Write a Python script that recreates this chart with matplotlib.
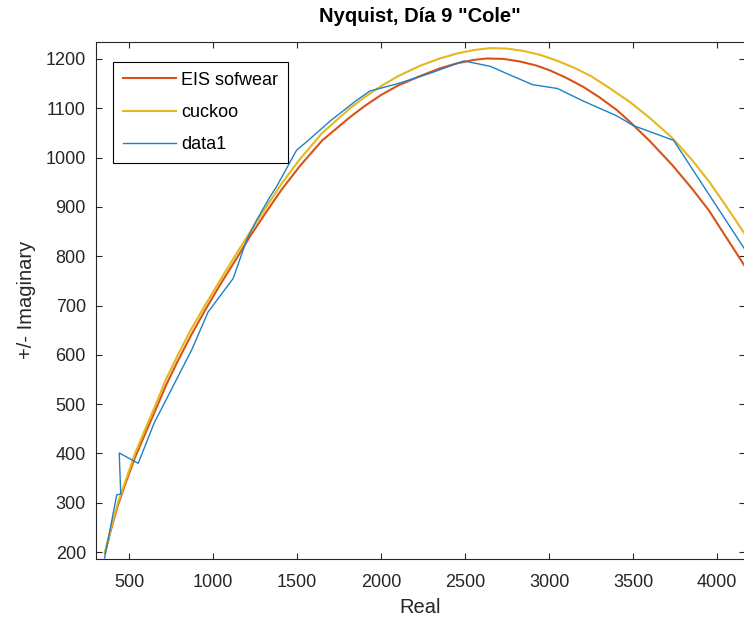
import numpy as np
import matplotlib.pyplot as plt

plt.rcParams['font.family'] = ['Liberation Sans', 'DejaVu Sans']

# EIS software fit
eis_x = [357, 390, 434, 480, 536, 600, 660, 720, 791, 870, 952, 1040, 1130, 1220, 1309,
         1410, 1517, 1650, 1815, 1900, 2000, 2100, 2230, 2350, 2450, 2550, 2630, 2730,
         2824, 2920, 3003, 3100, 3200, 3300, 3400, 3479, 3600, 3732, 3850, 3950, 4050, 4160]
eis_y = [198, 242, 295, 340, 392, 443, 490, 538, 588, 640, 690, 741, 790, 840, 886,
         936, 983, 1035, 1082, 1104, 1127, 1146, 1165, 1181, 1191, 1198, 1201, 1200,
         1195, 1187, 1177, 1162, 1144, 1122, 1097, 1073, 1033, 985, 937, 893, 840, 782]

# cuckoo fit
cuckoo_x = [357, 390, 434, 480, 536, 600, 660, 720, 791, 870, 952, 1040, 1130, 1220, 1309,
            1410, 1517, 1650, 1815, 1900, 2000, 2100, 2230, 2350, 2450, 2550, 2650, 2750,
            2850, 2950, 3050, 3150, 3250, 3350, 3479, 3600, 3732, 3850, 3950, 4050, 4160]
cuckoo_y = [200, 245, 300, 345, 400, 452, 500, 550, 600, 652, 700, 750, 800, 849, 896,
            948, 997, 1050, 1100, 1122, 1145, 1165, 1186, 1201, 1211, 1218, 1222, 1221,
            1216, 1208, 1196, 1182, 1165, 1143, 1113, 1080, 1040, 995, 952, 903, 847]

# measured data
data_x = [355, 427, 451, 442, 555, 650, 730, 873, 971, 1120, 1200, 1259, 1338, 1378,
          1497, 1550, 1700, 1850, 1933, 2100, 2300, 2493, 2650, 2750, 2900, 3050, 3200,
          3400, 3500, 3740, 4160]
data_y = [188, 316, 318, 401, 380, 462, 515, 610, 687, 755, 833, 873, 920, 941,
          1015, 1030, 1075, 1115, 1135, 1150, 1172, 1196, 1185, 1170, 1148, 1140, 1115,
          1085, 1065, 1035, 816]

W, H = 744, 625
fig = plt.figure(figsize=(W / 100, H / 100), dpi=100)
ax = fig.add_axes([95.7 / W, (H - 559) / H, (745 - 95.7) / W, (559 - 41.7) / H])

ax.plot(eis_x, eis_y, color='#D95319', lw=1.5, label='EIS sofwear')
ax.plot(cuckoo_x, cuckoo_y, color='#E4B81E', lw=1.5, label='cuckoo')
ax.plot(data_x, data_y, color='#1F80C4', lw=1.0, label='data1')

ax.set_xlim(302, 4165)
ax.set_ylim(186, 1235)
ax.set_xticks(np.arange(500, 4001, 500))
ax.set_yticks(np.arange(200, 1201, 100))

dark = '#262626'
for s in ax.spines.values():
    s.set_color(dark)
    s.set_linewidth(0.8)
ax.tick_params(direction='in', length=4, width=0.8, top=True, right=True,
               labelsize=13, colors=dark, pad=7)
ax.tick_params(axis='x', pad=10.5)

ax.set_title('Nyquist, Día 9 "Cole"', fontsize=14.5, fontweight='bold', pad=14.5, color='black')
ax.set_xlabel('Real', fontsize=14.5, color=dark, labelpad=5)
ax.set_ylabel('+/- Imaginary', fontsize=14.5, color=dark, labelpad=7)

leg = ax.legend(loc='upper left', bbox_to_anchor=(0.0271, 0.9613), borderaxespad=0,
                fontsize=13, handlelength=2.9, handletextpad=0.3, borderpad=0.55,
                labelspacing=0.85, fancybox=False, framealpha=1, edgecolor='black')
leg.get_frame().set_linewidth(0.8)

fig.savefig('out.png', dpi=100)
